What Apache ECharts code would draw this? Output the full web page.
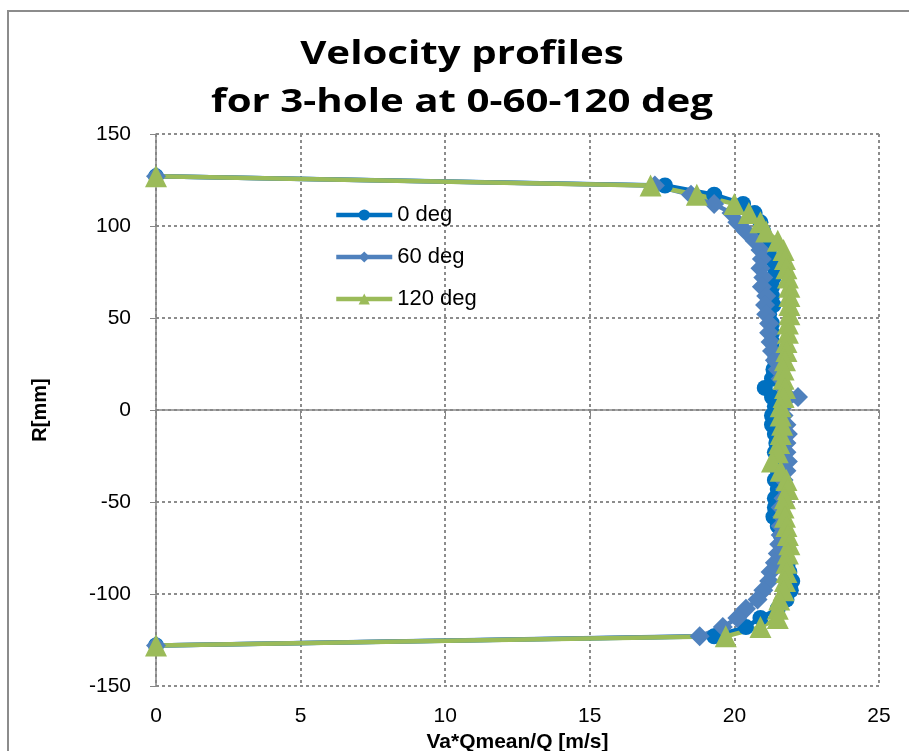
<!DOCTYPE html>
<html>
<head>
<meta charset="utf-8">
<script src="https://cdn.jsdelivr.net/npm/echarts@6/dist/echarts.min.js"></script>
<style>
  html, body { margin: 0; padding: 0; background: #fff; }
  #chart { width: 909px; height: 751px; }
</style>
</head>
<body>
<div id="chart"></div>
<script>
// radial position of each measuring point [mm]
var rVals = [127, 122, 117, 112, 107, 102, 97, 92, 87, 82, 77, 72, 67, 62, 57, 52, 47, 42, 37, 32,
    27, 22, 17, 12, 7, 2, -3, -8, -13, -18, -23, -28, -33, -38, -43, -48, -53, -58, -63, -68,
    -73, -78, -83, -88, -93, -98, -103, -108, -113, -118, -123, -128];

// velocity Va*Qmean/Q [m/s] for each hole orientation
var v0 = [0, 17.6, 19.3, 20.3, 20.7, 20.9, 21.0, 21.1, 21.2, 21.3, 21.4, 21.35, 21.3, 21.3, 21.35, 21.2,
    21.3, 21.3, 21.3, 21.35, 21.4, 21.35, 21.3, 21.05, 21.3, 21.4, 21.3, 21.3, 21.4, 21.45, 21.4, 21.5,
    21.5, 21.4, 21.5, 21.4, 21.4, 21.35, 21.5, 21.6, 21.6, 21.7, 21.85, 21.9, 22.0, 21.95, 21.8, 21.5,
    20.9, 20.4, 19.3, 0];
var v60 = [0, 17.25, 18.5, 19.3, 19.9, 20.1, 20.4, 20.7, 20.9, 20.95, 20.9, 21.0, 20.95, 21.1, 21.06, 21.1,
    21.2, 21.2, 21.25, 21.3, 21.4, 21.5, 21.6, 21.7, 22.2, 21.7, 21.7, 21.8, 21.85, 21.8, 21.8, 21.85,
    21.8, 21.7, 21.75, 21.7, 21.6, 21.65, 21.6, 21.6, 21.55, 21.5, 21.4, 21.25, 21.2, 21.0, 20.8, 20.4,
    20.1, 19.6, 18.8, 0];
var v120 = [0, 17.1, 18.7, 20.0, 20.5, 20.9, 21.1, 21.5, 21.7, 21.75, 21.8, 21.85, 21.9, 21.9, 21.9, 21.9,
    21.85, 21.85, 21.8, 21.8, 21.75, 21.7, 21.7, 21.75, 21.7, 21.6, 21.6, 21.65, 21.6, 21.55, 21.5, 21.3,
    21.6, 21.8, 21.85, 21.75, 21.7, 21.75, 21.8, 21.85, 21.9, 21.85, 21.8, 21.8, 21.75, 21.7, 21.55, 21.5,
    21.5, 20.9, 19.7, 0];

var seriesNames = ['0 deg', '60 deg', '120 deg'];
var seriesColors = ['#0070C0', '#4F81BD', '#9BBB59'];
var seriesSymbols = ['circle', 'diamond', 'triangle'];
var seriesSizes = [16, 20, 22];

function pairs(v) {
    var out = [];
    for (var i = 0; i < v.length; i++) {
        out.push([v[i], rVals[i]]);
    }
    return out;
}

var allValues = [v0, v60, v120];
var series = [];
for (var s = 0; s < 3; s++) {
    series.push({
        name: seriesNames[s],
        type: 'line',
        data: pairs(allValues[s]),
        symbol: seriesSymbols[s],
        symbolSize: seriesSizes[s],
        showAllSymbol: true,
        color: seriesColors[s],
        lineStyle: { width: 4.5, color: seriesColors[s] },
        itemStyle: { color: seriesColors[s] },
        animation: false
    });
}

var labelFont = 'Liberation Sans';
var myChart = echarts.init(document.getElementById('chart'));
var option = {
    backgroundColor: '#fff',
    graphic: [{
        type: 'rect',
        shape: { x: 8, y: 11, width: 920, height: 760 },
        style: { fill: 'none', stroke: '#8c8c8c', lineWidth: 2 }
    }, {
        // title, slightly widened like the original export
        type: 'text',
        x: 462, y: 79,
        scaleX: 1.22,
        style: {
            text: 'Velocity profiles\nfor 3-hole at 0-60-120 deg',
            align: 'center', verticalAlign: 'middle',
            fontFamily: 'Open Sans', fontWeight: 'bold', fontSize: 33,
            lineHeight: 48, fill: '#000'
        }
    }],
    legend: {
        orient: 'vertical',
        left: 334,
        top: 204,
        padding: 0,
        itemWidth: 56,
        itemHeight: 14,
        itemGap: 20,
        data: seriesNames,
        lineStyle: { width: 4.5 },
        textStyle: { fontFamily: labelFont, fontSize: 22, color: '#000' }
    },
    grid: { left: 156, right: 30, top: 134, bottom: 65, outerBoundsMode: 'none' },
    xAxis: {
        type: 'value',
        min: 0, max: 25, interval: 5,
        name: 'Va*Qmean/Q [m/s]',
        nameLocation: 'middle',
        nameGap: 45,
        nameTextStyle: { fontFamily: labelFont, fontWeight: 'bold', fontSize: 21, color: '#000' },
        axisLine: { lineStyle: { color: '#868686', width: 1.5 } },
        axisTick: { show: true, length: 6, lineStyle: { color: '#868686' } },
        axisLabel: { fontFamily: labelFont, fontSize: 21, color: '#000', margin: 20 },
        splitLine: { show: true, lineStyle: { color: '#8c8c8c', type: [3, 3], width: 2 } }
    },
    yAxis: {
        type: 'value',
        min: -150, max: 150, interval: 50,
        name: 'R[mm]',
        nameLocation: 'middle',
        nameGap: 106,
        nameTextStyle: { fontFamily: labelFont, fontWeight: 'bold', fontSize: 20, color: '#000' },
        axisLine: { onZero: false, lineStyle: { color: '#868686', width: 1.5 } },
        axisTick: { show: true, length: 6, lineStyle: { color: '#868686' } },
        axisLabel: { fontFamily: labelFont, fontSize: 21, color: '#000', margin: 25 },
        splitLine: { show: true, lineStyle: { color: '#8c8c8c', type: [3, 3], width: 2 } }
    },
    series: series
};
myChart.setOption(option, true);
</script>
</body>
</html>
